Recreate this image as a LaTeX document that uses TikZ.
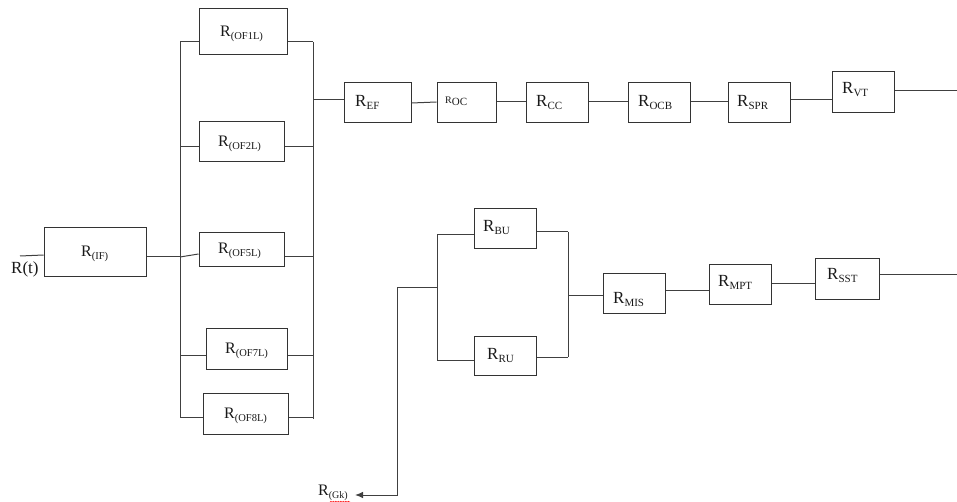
\documentclass[tikz,border=0pt]{standalone}
\usepackage{fontspec}
\setmainfont{Liberation Serif}
\usetikzlibrary{arrows.meta,decorations.pathmorphing}
\newcommand\Rlab[1]{{\fontsize{16}{16}\selectfont R}\raisebox{-2.5pt}{\fontsize{10.5}{10.5}\selectfont #1}}
\newcommand\Rbig[1]{{\fontsize{17}{17}\selectfont R}\raisebox{-3pt}{\fontsize{11}{11}\selectfont #1}}
\tikzset{
  blk/.style={draw=black!80, line width=1pt, rectangle, inner sep=0pt},
  lbl/.style={anchor=west, inner sep=0pt, text=black!90},
  wire/.style={draw=black!75, line width=1pt},
}
\begin{document}
\begin{tikzpicture}[x=1pt,y=-1pt]
\useasboundingbox (0,0) rectangle (957,502);
% boxes
\node[blk, minimum width=88pt, minimum height=46pt] (of1) at (243,32) {};
\node[blk, minimum width=85pt, minimum height=40pt] (of2) at (241.5,142) {};
\node[blk, minimum width=85pt, minimum height=34pt] (of5) at (241.5,250) {};
\node[blk, minimum width=81pt, minimum height=41pt] (of7) at (246.5,348.5) {};
\node[blk, minimum width=85pt, minimum height=41pt] (of8) at (245.5,413.5) {};
\node[blk, minimum width=102pt, minimum height=49pt] (if) at (95,252.5) {};
\node[blk, minimum width=67pt, minimum height=40pt] (ef) at (377.5,103) {};
\node[blk, minimum width=59pt, minimum height=40pt] (oc) at (466.5,103) {};
\node[blk, minimum width=62pt, minimum height=40pt] (cc) at (557,103) {};
\node[blk, minimum width=62pt, minimum height=40pt] (ocb) at (659,103) {};
\node[blk, minimum width=62pt, minimum height=40pt] (spr) at (759,103) {};
\node[blk, minimum width=62pt, minimum height=41pt] (vt) at (863,92.5) {};
\node[blk, minimum width=62pt, minimum height=40pt] (bu) at (505,229) {};
\node[blk, minimum width=62pt, minimum height=39pt] (ru) at (505,355.5) {};
\node[blk, minimum width=62pt, minimum height=39pt] (mis) at (634,293.5) {};
\node[blk, minimum width=62pt, minimum height=39pt] (mpt) at (740,284.5) {};
\node[blk, minimum width=64pt, minimum height=40pt] (sst) at (847,279) {};
% labels
\node[lbl] (tof1) at (220,34) {\Rlab{(OF1L)}};
\node[lbl] (tof2) at (218,144) {\Rlab{(OF2L)}};
\node[lbl] (tof5) at (218,251) {\Rlab{(OF5L)}};
\node[lbl] (tof7) at (225,351) {\Rlab{(OF7L)}};
\node[lbl] (tof8) at (224,416) {\Rlab{(OF8L)}};
\node[lbl] (tif) at (81,254) {\Rlab{(IF)}};
\node[lbl] (tef) at (355,102) {\Rbig{EF}};
\node[lbl] (toc) at (445,101) {\raisebox{1pt}{\fontsize{10}{10}\selectfont R}\raisebox{-1pt}{\fontsize{11}{11}\selectfont OC}};
\node[lbl] (tcc) at (536,102) {\Rbig{CC}};
\node[lbl] (tocb) at (638,102) {\Rbig{OCB}};
\node[lbl] (tspr) at (737,102) {\Rbig{SPR}};
\node[lbl] (tvt) at (842,90) {\Rbig{VT}};
\node[lbl] (tbu) at (483,227) {\Rbig{BU}};
\node[lbl] (tru) at (487,355) {\Rbig{RU}};
\node[lbl] (tmis) at (613,299) {\Rbig{MIS}};
\node[lbl] (tmpt) at (718,282) {\Rbig{MPT}};
\node[lbl] (tsst) at (827,275) {\Rbig{SST}};
\node[lbl] (trt) at (11,269) {\fontsize{17}{17}\selectfont R(t)};
\node[lbl] (tgk) at (318,493) {{\fontsize{16}{16}\selectfont R}\raisebox{-2.5pt}{\fontsize{10}{10}\selectfont (Gk)}};
% coordinates
\coordinate (lb) at (180,42);
\coordinate (lbe) at (180,417);
\coordinate (rb) at (313,42);
\coordinate (rbe) at (313,419);
\coordinate (rtin) at (20,256);
\coordinate (vtout) at (957,91);
\coordinate (sstout) at (957,275);
\coordinate (pb) at (437,235);
\coordinate (pbe) at (437,360);
\coordinate (qb) at (568,232);
\coordinate (qbe) at (568,357);
\coordinate (gk) at (397,287);
\coordinate (gkc) at (397,495);
\coordinate (gktip) at (355,495);
% buses
\draw[wire] (lb) -- (lbe);
\draw[wire] (rb) -- (rbe);
\draw[wire] (pb) -- (pbe);
\draw[wire] (qb) -- (qbe);
% first stage
\draw[wire] (rtin) -- (if.west |- 0,255);
\draw[wire] (if.east |- 0,257) -- (lb |- 0,257);
\draw[wire] (lb) -- (of1.west |- lb);
\draw[wire] (of1.east |- rb) -- (rb);
\draw[wire] (lb |- 0,147) -- (of2.west |- 0,147);
\draw[wire] (of2.east |- 0,147) -- (rb |- 0,147);
\draw[wire] (lb |- 0,257) -- (of5.west |- 0,254);
\draw[wire] (of5.east |- 0,257) -- (rb |- 0,257);
\draw[wire] (lb |- 0,355) -- (of7.west |- 0,355);
\draw[wire] (of7.east |- 0,355) -- (rb |- 0,355);
\draw[wire] (lbe) -- (of8.west |- lbe);
\draw[wire] (of8.east |- lbe) -- (rb |- lbe);
% top chain
\draw[wire] (rb |- 0,100) -- (ef.west |- 0,100);
\draw[wire] (ef.east |- 0,103) -- (oc.west |- 0,102);
\draw[wire] (oc.east |- 0,102) -- (cc.west |- 0,102);
\draw[wire] (cc.east |- 0,102) -- (ocb.west |- 0,102);
\draw[wire] (ocb.east |- 0,102) -- (spr.west |- 0,102);
\draw[wire] (spr.east |- 0,100) -- (vt.west |- 0,100);
\draw[wire] (vt.east |- vtout) -- (vtout);
% bottom
\draw[wire, -{Latex[length=8pt,width=6.5pt]}] (gk -| pb) -- (gk) -- (gkc) -- (gktip);
\draw[wire] (pb) -- (bu.west |- pb);
\draw[wire] (bu.east |- qb) -- (qb);
\draw[wire] (pbe) -- (ru.west |- pbe);
\draw[wire] (ru.east |- qbe) -- (qbe);
\draw[wire] (qb |- 0,295) -- (mis.west |- 0,295);
\draw[wire] (mis.east |- 0,290) -- (mpt.west |- 0,290);
\draw[wire] (mpt.east |- 0,283) -- (sst.west |- 0,283);
\draw[wire] (sst.east |- sstout) -- (sstout);
% spell-check squiggle
\draw[red, line width=0.5pt, decorate, decoration={snake, amplitude=0.6pt, segment length=2.5pt}] (tgk.south west) ++(12,1) -- ++(20,0);
\end{tikzpicture}
\end{document}
